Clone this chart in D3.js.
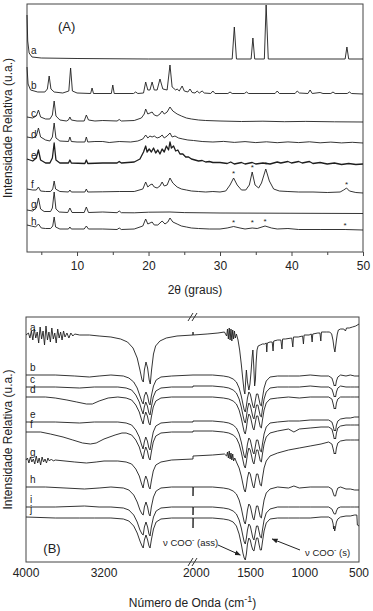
<!DOCTYPE html>
<html><head><meta charset="utf-8">
<script src="https://cdn.jsdelivr.net/npm/d3@7"></script>
<style>body{margin:0;background:#fff}svg{display:block}text{font-family:"Liberation Sans",Arial,sans-serif;fill:#222}</style>
</head><body>
<script>
// ---------- Panel A: XRD (2θ, intensity a.u. above each trace's own baseline) ----------
const xrdLabels = ["a","b","c","d","e","f","g","h"];
const xrdOffsets = [193,158,130,109,88,59,39,22];
const xrdA = [[3,44],[3.1,18],[3.3,6],[3.7,2],[5,1],[10,0.5],[20,0],[31.7,0],[32,32],[32.3,0],[34.35,0],[34.6,21],[34.85,0],[36.2,0],[36.45,54],[36.75,0],[47.5,0],[47.75,12],[48.0,0],[50,0]];
const xrdB = [[3,27],[3.15,10],[3.5,4],[4.5,2],[5.5,2],[5.85,5],[6.1,18],[6.35,5],[6.8,2],[8,1],[8.85,3],[9.1,26],[9.35,3],[10,1],[11.9,0.5],[12.1,6],[12.3,0.5],[14.8,0.5],[15.0,9],[15.2,0.5],[17.9,0.5],[18.2,2],[18.5,0.5],[19.3,1],[19.6,12],[19.9,4],[20.2,4],[20.5,12],[20.8,4],[21.2,4],[21.6,15],[22.0,5],[22.6,4],[23.0,29],[23.3,7],[23.8,4],[24.0,5],[24.3,3],[24.7,8],[25.0,3],[25.5,2],[25.8,5],[26.1,1.5],[26.5,1],[26.8,3],[27.1,1],[27.5,3],[27.8,1],[28.7,0.5],[29.0,3],[29.3,0.5],[31.1,0.5],[31.4,2],[31.7,0.5],[33.4,0.5],[33.7,2],[34.0,0.5],[37.7,0.5],[38.0,3],[38.3,0.5],[40.5,0.5],[40.8,3],[41.1,1],[42.3,0.5],[42.6,4],[42.9,0.5],[44,1.5],[44.4,0.5],[45.5,0.5],[45.8,2],[46.1,0.5],[47.8,0.5],[48.1,2],[48.4,0.5],[50,0]];
const xrdC = [[3,5],[3.8,4],[4.3,6],[4.6,12],[4.9,5],[5.6,3],[6.2,3],[6.55,7],[6.8,21],[7.05,6],[7.6,2],[8.5,1],[8.8,2],[9.0,5],[9.2,2],[10,1],[11.0,1],[11.3,7],[11.6,2],[12.5,1],[13.6,1.5],[15.6,1],[15.9,2.5],[16.2,1],[18,1.5],[19.0,4],[19.4,8],[19.6,13],[19.9,8],[20.2,9],[20.5,10],[20.8,7],[21.2,6],[21.6,8],[21.9,11],[22.2,8],[22.6,10],[23.0,15],[23.4,11],[24,8],[24.6,6],[25.3,4],[26,3],[27,2],[28,1.5],[30,1],[33,0.5],[36,0.8],[39,0.3],[42,0.6],[46,0.2],[50,0]];
const xrdD = [[3,6],[3.8,5],[4.3,7],[4.6,15],[4.9,6],[5.6,3],[6.2,2],[6.55,6],[6.8,20],[7.05,5],[7.6,2],[8.8,1.5],[9.0,6],[9.2,1.5],[10,1],[11.1,1],[11.3,6],[11.5,1],[12.5,1.5],[13.6,1.5],[14.5,0.5],[15.9,1.5],[17.5,1],[18.5,2],[19.2,4],[19.6,8],[19.9,5],[20.2,7],[20.5,6],[20.8,7],[21.2,5],[21.6,6],[21.9,8],[22.2,5],[22.6,7],[23.0,10],[23.3,6],[23.7,7],[24.2,5],[24.8,4],[25.5,3],[26.3,2.5],[27.5,1.5],[29,1],[30.5,1.6],[32,0.6],[33.5,1.4],[35,0.4],[36.5,1.2],[38,0.3],[39.5,1.1],[41,0.4],[42.5,1.2],[44,0.2],[45.5,0.9],[47,0.1],[48.5,0.7],[50,0]];
const xrdE = [[3,5],[3.8,3],[4.3,6],[4.6,14],[4.9,4],[5.6,1],[6.2,1],[6.55,6],[6.8,21],[7.05,4],[7.6,1],[8.8,1],[9.0,4],[9.2,1],[11.1,0.5],[11.3,4],[11.5,0.5],[13.6,1],[15.6,1],[15.9,2.5],[16.2,1],[18,2],[18.8,5],[19.3,12],[19.6,18],[19.8,12],[20.1,15],[20.4,12],[20.7,16],[21.0,11],[21.3,14],[21.6,10],[21.9,15],[22.2,12],[22.5,18],[22.8,14],[23.0,22],[23.2,16],[23.5,18],[23.8,13],[24.1,14],[24.4,10],[24.8,10],[25.2,7],[25.6,7],[26.0,5],[26.5,4],[27,3],[27.5,3.5],[28,2],[28.5,2.5],[29,1.5],[30,1.5],[31,0.5],[31.5,2],[32,0],[33,1.5],[33.5,0],[34.5,1.5],[35,0],[36,1],[37,0],[38,2],[38.5,1],[39.5,2.5],[40,1],[41,2.5],[41.5,1],[42.5,2.5],[43,0.5],[44,1.5],[45,0],[46,1],[47,-0.5],[48,0.5],[49,-0.5],[50,0]];
const xrdF = [[3,4],[3.8,3],[4.3,3],[4.6,6],[4.9,2],[5.6,1.5],[6.3,1.5],[6.6,4],[6.8,12],[7.0,4],[7.6,1.5],[8.8,1],[9.0,3],[9.2,1],[11.1,1],[11.3,4],[11.5,1],[13.6,1.2],[15.9,1.5],[18,1.5],[19.2,4],[19.6,11],[19.9,6],[20.2,8],[20.5,9],[20.8,6],[21.2,5],[21.6,7],[21.9,11],[22.2,7],[22.6,8],[23.0,15],[23.4,10],[24,6],[24.6,4],[25.3,3],[26,2],[27,1.5],[28,1],[29,1.5],[30,1],[30.8,2],[31.4,8],[31.9,15],[32.4,8],[33.0,3],[33.6,3],[34.1,8],[34.5,21],[34.9,8],[35.4,5],[35.8,10],[36.4,24],[36.9,12],[37.5,4],[38.3,2],[39.5,1.5],[41,1],[43,1],[45,0.5],[46.8,1],[47.3,3],[47.7,5],[48.1,2],[49,0.5],[50,0]];
const xrdG = [[3,3],[3.8,2],[4.3,5],[4.6,15],[4.9,4],[5.4,1.5],[6.3,1.5],[6.55,5],[6.8,21],[7.05,4],[7.5,1],[8.7,0.5],[9.0,5],[9.3,0.5],[11.0,0.5],[11.3,6],[11.6,0.5],[13.6,1],[15.6,0.3],[15.9,2],[16.2,0.3],[18,0.2],[20,0.8],[23,1],[25,0.4],[30,0],[50,-0.5]];
const xrdH = [[3,5],[3.6,4],[4.2,3],[4.6,6],[5.0,2],[5.6,1.5],[6.3,1.5],[6.6,4],[6.8,13],[7.0,3],[7.6,1],[8.8,1],[9.0,3],[9.2,1],[11.0,1],[11.3,4],[11.6,1],[13.6,1],[15.6,0.5],[15.9,2],[16.2,0.5],[18,1],[19.2,4],[19.6,11],[19.9,6],[20.2,7],[20.5,8],[20.8,5],[21.3,5],[21.9,9],[22.3,6],[22.7,8],[23.0,12],[23.4,8],[24,6],[24.6,4],[25.3,3],[26,2],[27,1.5],[28.5,1],[30,1],[31,2],[31.9,3.5],[32.8,2],[33.5,1],[34.5,2],[35.2,1.5],[36.3,4],[37.2,2],[38,1],[39.5,1.5],[41,0.5],[44,0.5],[47.5,0.5],[50,0]];
const xrdSeries = [xrdA,xrdB,xrdC,xrdD,xrdE,xrdF,xrdG,xrdH];
const xrdTicks = [10,20,30,40,50];
const xrdMinor = [5,15,25,35,45];
const znoMarks = [[5,31.9,20],[5,34.5,26],[5,36.4,29],[5,47.7,9],[7,31.9,8],[7,34.5,8],[7,36.3,9],[7,47.5,5]];

// ---------- Panel B: FTIR (wavenumber, transmittance a.u.) ----------
const irLabels = ["a","b","c","d","e","f","g","h","i","j"];
const irLeftA = [[4000,227],[3975,229],[3960,224],[3945,231],[3930,222],[3915,233],[3900,224],[3885,230],[3870,219],[3855,235],[3840,223],[3825,231],[3810,217],[3795,236],[3780,222],[3765,230],[3750,220],[3735,234],[3720,223],[3705,229],[3690,219],[3675,233],[3660,224],[3645,230],[3630,222],[3615,231],[3600,225],[3580,229],[3560,224],[3540,229],[3520,226],[3500,228],[3450,227],[3350,227],[3250,226],[3150,225],[3080,223],[3030,220],[2990,214],[2960,204],[2940,192],[2925,182],[2915,180],[2905,192],[2890,200],[2875,194],[2860,182],[2850,178],[2838,192],[2820,208],[2800,216],[2760,221],[2700,224],[2600,226],[2450,227]];
const irRightA = [[2030,230],[2029,227],[1900,228],[1800,229],[1740,230],[1720,226],[1712,233],[1704,223],[1696,234],[1688,222],[1680,233],[1672,221],[1664,232],[1656,223],[1648,231],[1640,224],[1630,228],[1615,222],[1600,212],[1585,198],[1572,184],[1560,172],[1552,168],[1544,182],[1538,192],[1528,180],[1515,172],[1505,178],[1495,190],[1485,205],[1478,212],[1470,196],[1462,176],[1455,182],[1448,200],[1440,212],[1430,216],[1410,217],[1390,218],[1370,218],[1355,219],[1350,210],[1345,219],[1320,220],[1300,220],[1292,211],[1286,221],[1250,222],[1220,222],[1210,213],[1204,223],[1180,223],[1120,224],[1110,215],[1104,225],[1060,225],[1020,226],[1012,218],[1006,227],[960,227],[940,228],[932,220],[926,228],[880,229],[860,229],[852,221],[846,230],[800,230],[770,230],[752,228],[740,222],[730,214],[722,210],[716,215],[708,222],[700,228],[690,232],[670,233],[640,233],[625,231],[615,234],[590,234],[560,235],[530,236],[500,238]];
const irLeftB = [[4000,187],[3700,187],[3500,186],[3350,185],[3250,186],[3150,187],[3060,186],[3020,184],[2985,180],[2960,174],[2940,166],[2925,160],[2916,158],[2905,166],[2890,170],[2875,166],[2862,159],[2852,157],[2840,166],[2820,176],[2795,182],[2750,185],[2650,186],[2450,187]];
const irRightB = [[2030,187],[1850,187],[1750,186],[1700,185],[1660,183],[1630,180],[1605,174],[1585,166],[1570,158],[1558,152],[1548,150],[1538,156],[1528,164],[1515,170],[1502,168],[1490,162],[1478,156],[1468,154],[1458,160],[1445,168],[1432,168],[1420,162],[1410,157],[1400,156],[1390,164],[1375,174],[1355,181],[1320,185],[1250,186],[1150,186],[1050,186],[950,187],[850,186],[780,186],[750,184],[738,180],[728,176],[722,177],[716,176],[708,181],[695,185],[670,187],[620,186],[580,187],[540,186],[500,186]];
const irLeftC = [[4000,175],[3700,175],[3450,174],[3300,175],[3100,175],[3040,174],[3000,172],[2970,167],[2945,160],[2928,152],[2917,148],[2906,155],[2892,160],[2877,156],[2863,149],[2852,147],[2840,155],[2822,165],[2798,171],[2750,174],[2650,175],[2450,175]];
const irRightC = [[2030,176],[1850,176],[1750,175],[1700,174],[1660,172],[1630,169],[1605,163],[1585,155],[1570,147],[1558,141],[1548,139],[1538,145],[1528,153],[1515,159],[1502,157],[1490,151],[1478,145],[1468,143],[1458,149],[1445,157],[1432,157],[1420,151],[1410,146],[1400,145],[1390,153],[1375,163],[1355,170],[1320,174],[1250,175],[1150,175],[1050,175],[950,176],[850,175],[780,175],[750,173],[738,169],[728,165],[722,166],[716,165],[708,170],[695,174],[670,176],[620,175],[580,175],[540,175],[500,175]];
const irLeftD = [[4000,165],[3800,165],[3700,164],[3580,162],[3480,160],[3380,158],[3320,158],[3250,161],[3170,164],[3100,165],[3040,164],[3000,162],[2970,157],[2945,150],[2928,142],[2917,138],[2906,145],[2892,150],[2877,146],[2863,139],[2852,137],[2840,145],[2822,155],[2798,161],[2750,164],[2650,165],[2450,165]];
const irRightD = [[2030,165],[1850,165],[1750,164],[1700,163],[1660,161],[1630,158],[1605,152],[1585,144],[1570,136],[1558,130],[1548,128],[1538,134],[1528,142],[1515,148],[1502,146],[1490,140],[1478,134],[1468,132],[1458,138],[1445,146],[1432,146],[1420,140],[1410,135],[1400,134],[1390,142],[1375,152],[1355,159],[1320,163],[1250,164],[1150,165],[1050,164],[950,165],[850,165],[780,165],[750,163],[738,158],[728,153],[722,154],[716,153],[708,159],[695,163],[670,165],[620,165],[580,165],[540,165],[500,165]];
const irLeftE = [[4000,140],[3700,140],[3450,139],[3300,140],[3100,140],[3040,139],[3000,137],[2970,132],[2945,125],[2928,117],[2917,113],[2906,120],[2892,125],[2877,121],[2863,114],[2852,112],[2840,120],[2822,130],[2798,136],[2750,139],[2650,140],[2450,140]];
const irRightE = [[2030,141],[1850,141],[1750,140],[1700,139],[1660,137],[1630,134],[1605,128],[1585,120],[1570,112],[1558,106],[1548,104],[1538,110],[1528,118],[1515,124],[1502,122],[1490,116],[1478,110],[1468,108],[1458,114],[1445,122],[1432,122],[1420,116],[1410,111],[1400,110],[1390,118],[1375,128],[1355,135],[1320,139],[1250,140],[1150,141],[1050,141],[950,142],[850,142],[780,142],[750,140],[738,136],[728,131],[722,132],[716,131],[708,137],[695,141],[670,143],[620,144],[580,144],[540,145],[500,145]];
const irLeftF = [[4000,130],[3850,130],[3750,128],[3620,125],[3520,122],[3420,119],[3340,118],[3280,119],[3200,123],[3120,127],[3070,129],[3040,129],[3000,127],[2970,122],[2945,115],[2928,107],[2917,103],[2906,110],[2892,115],[2877,111],[2863,104],[2852,102],[2840,110],[2822,120],[2798,126],[2750,129],[2650,130],[2450,130]];
const irRightF = [[2030,131],[1850,131],[1750,130],[1700,129],[1660,127],[1630,124],[1605,118],[1585,110],[1570,102],[1558,96],[1548,94],[1538,100],[1528,108],[1515,114],[1502,112],[1490,106],[1478,100],[1468,98],[1458,104],[1445,112],[1432,112],[1420,106],[1410,101],[1400,100],[1390,108],[1375,118],[1355,125],[1320,129],[1250,131],[1150,133],[1100,130],[1050,133],[950,134],[850,135],[780,135],[750,133],[738,128],[728,123],[722,124],[716,123],[708,129],[695,134],[670,136],[620,137],[580,137],[540,137],[500,137]];
const irLeftG = [[4000,102],[3985,104],[3970,99],[3955,105],[3940,100],[3925,103],[3910,98],[3895,106],[3880,99],[3865,104],[3850,97],[3835,105],[3820,100],[3805,103],[3790,99],[3775,104],[3760,101],[3740,103],[3720,101],[3700,102],[3600,101],[3500,100],[3380,99],[3280,100],[3200,101],[3100,101],[3040,100],[3000,98],[2970,93],[2945,86],[2928,78],[2917,74],[2906,81],[2892,86],[2877,82],[2863,75],[2852,73],[2840,81],[2822,91],[2798,97],[2750,100],[2650,102],[2450,103]];
const irRightG = [[2030,106],[1850,107],[1740,108],[1720,106],[1712,110],[1704,104],[1696,111],[1688,103],[1680,109],[1672,102],[1664,108],[1656,101],[1645,104],[1630,100],[1605,94],[1585,86],[1570,78],[1558,72],[1548,70],[1538,76],[1528,84],[1515,90],[1502,88],[1490,82],[1478,76],[1468,74],[1458,80],[1445,88],[1432,88],[1420,82],[1410,77],[1400,76],[1390,84],[1375,94],[1355,101],[1320,106],[1250,109],[1150,112],[1050,114],[950,116],[850,118],[780,120],[750,118],[738,113],[728,108],[722,109],[716,108],[708,114],[695,119],[670,121],[620,122],[580,122],[540,122],[500,122]];
const irLeftH = [[4000,75],[3800,75],[3600,74],[3400,73],[3250,74],[3150,75],[3060,74],[3020,72],[2985,67],[2960,60],[2940,52],[2925,48],[2916,47],[2905,55],[2890,60],[2875,55],[2862,48],[2852,46],[2840,55],[2820,65],[2795,71],[2750,74],[2650,75],[2450,75]];
const irRightH = [[2030,66],[2028,75],[1850,75],[1750,74],[1700,73],[1660,71],[1630,68],[1605,62],[1585,54],[1570,46],[1558,40],[1548,38],[1538,44],[1528,52],[1515,58],[1502,56],[1490,50],[1478,44],[1468,42],[1458,48],[1445,56],[1432,56],[1420,50],[1410,45],[1400,44],[1390,52],[1375,62],[1355,69],[1320,73],[1250,75],[1150,74],[1100,76],[1050,74],[950,75],[850,75],[780,75],[750,73],[738,69],[728,66],[722,66],[716,66],[708,70],[695,74],[670,75],[620,73],[580,73],[540,72],[500,72]];
const irLeftI = [[4000,55],[3700,55],[3400,56],[3250,55],[3150,55],[3060,54],[3020,52],[2985,47],[2960,40],[2940,32],[2925,28],[2916,27],[2905,35],[2890,40],[2875,35],[2862,28],[2852,26],[2840,35],[2820,45],[2795,51],[2750,54],[2650,55],[2450,55]];
const irRightI = [[2030,47],[2028,55],[1850,55],[1750,54],[1700,53],[1660,51],[1630,48],[1605,42],[1585,34],[1570,26],[1558,20],[1548,18],[1538,24],[1528,32],[1515,38],[1502,36],[1490,30],[1478,24],[1468,22],[1458,28],[1445,36],[1432,36],[1420,30],[1410,25],[1400,24],[1390,32],[1375,42],[1355,49],[1320,53],[1250,55],[1150,55],[1050,55],[950,55],[850,55],[780,55],[750,53],[738,50],[728,48],[722,48],[716,48],[708,51],[695,54],[670,55],[620,55],[580,55],[540,55],[500,55]];
const irLeftJ = [[4000,45],[3700,44],[3450,44],[3300,44],[3150,44],[3060,43],[3020,41],[2985,36],[2960,29],[2940,21],[2925,16],[2916,14],[2905,22],[2890,27],[2875,22],[2862,16],[2852,14],[2840,22],[2820,33],[2795,40],[2750,43],[2650,44],[2450,44]];
const irRightJ = [[2030,34],[2028,44],[1850,44],[1750,43],[1700,42],[1660,40],[1630,36],[1605,28],[1585,18],[1570,9],[1558,4],[1548,2],[1538,8],[1528,18],[1515,24],[1502,22],[1490,16],[1478,12],[1468,11],[1458,17],[1445,24],[1432,24],[1420,17],[1410,12],[1400,12],[1390,20],[1375,31],[1355,39],[1320,43],[1250,44],[1150,44],[1050,44],[950,44],[850,45],[780,45],[750,43],[738,38],[734,33],[730,36],[724,31],[718,34],[708,40],[695,43],[670,45],[620,46],[580,46],[540,47],[520,47],[515,37],[500,36]];
const irLeft = [irLeftA,irLeftB,irLeftC,irLeftD,irLeftE,irLeftF,irLeftG,irLeftH,irLeftI,irLeftJ];
const irRight = [irRightA,irRightB,irRightC,irRightD,irRightE,irRightF,irRightG,irRightH,irRightI,irRightJ];
const irTicksLeft = [4000,3200];
const irTicksRight = [2000,1500,1000,500];

// ---------- drawing ----------
const W = 373, H = 611;
const svg = d3.select("body").append("svg").attr("width",W).attr("height",H);
const ink = "#1e1e1e";

// Panel A
const A = {l:27, r:363, t:4, b:252};
const xA = d3.scaleLinear().domain([3,50]).range([A.l,A.r]);
const yA = d3.scaleLinear().domain([0,248]).range([A.b,A.t]);
const gA = svg.append("g");
gA.append("rect").attr("x",A.l).attr("y",A.t).attr("width",A.r-A.l).attr("height",A.b-A.t)
  .attr("fill","none").attr("stroke","#444").attr("stroke-width",1);
const axA = gA.append("g").attr("transform",`translate(0,${A.b})`)
  .call(d3.axisBottom(xA).tickValues(xrdTicks).tickSize(4).tickPadding(5).tickFormat(d3.format("d")));
axA.select(".domain").remove();
axA.selectAll("text").attr("font-size",12).attr("font-family","Liberation Sans, Arial").attr("fill","#222");
axA.selectAll("line").attr("stroke","#444");
gA.append("g").attr("transform",`translate(0,${A.b})`)
  .call(d3.axisBottom(xA).tickValues(xrdMinor).tickSize(3).tickFormat(""))
  .call(g=>{g.select(".domain").remove(); g.selectAll("line").attr("stroke","#444");});

const lineA = d3.line().x(d=>xA(d[0])).y(d=>yA(d[1])).curve(d3.curveLinear);
xrdSeries.forEach((s,i)=>{
  const off = xrdOffsets[i];
  gA.append("path").datum(s.map(p=>[p[0],p[1]+off]))
    .attr("d",lineA).attr("fill","none").attr("stroke",ink)
    .attr("stroke-width", i===4 ? 1.3 : 0.9).attr("stroke-linejoin","round");
  gA.append("text").attr("x",A.l+4).attr("y",yA(off)-5).attr("font-size",10).text(xrdLabels[i]);
});
znoMarks.forEach(m=>{
  gA.append("text").attr("x",xA(m[1])).attr("y",yA(xrdOffsets[m[0]]+m[2])+3)
    .attr("text-anchor","middle").attr("font-size",8).text("*");
});
gA.append("text").attr("x",58).attr("y",31).attr("font-size",13).text("(A)");
gA.append("text").attr("x",(A.l+A.r)/2).attr("y",294).attr("text-anchor","middle").attr("font-size",12).text("2θ (graus)");
gA.append("text").attr("transform",`translate(12,${(A.t+A.b)/2}) rotate(-90)`).attr("text-anchor","middle")
  .attr("font-size",12).text("Intensidade Relativa (u.a.)");

// Panel B
const B = {l:26, r:359, t:317, b:562, brk:193};
const xL = d3.scaleLinear().domain([4000,3200,2918,2450]).range([B.l,104,143,B.brk]);
const xR = d3.scaleLinear().domain([2030,500]).range([B.brk,B.r]);
const yB = d3.scaleLinear().domain([0,245]).range([B.b,B.t]);
const gB = svg.append("g");
gB.append("rect").attr("x",B.l).attr("y",B.t).attr("width",B.r-B.l).attr("height",B.b-B.t)
  .attr("fill","none").attr("stroke","#444").attr("stroke-width",1);
const lineB = d3.line().x(d=>d[0]).y(d=>yB(d[1])).curve(d3.curveLinear);
irLeft.forEach((L,i)=>{
  const pts = L.map(p=>[xL(p[0]),p[1]]).concat(irRight[i].map(p=>[xR(p[0]),p[1]]));
  gB.append("path").datum(pts).attr("d",lineB).attr("fill","none").attr("stroke",ink)
    .attr("stroke-width",0.9).attr("stroke-linejoin","round");
  gB.append("text").attr("x",B.l+4).attr("y",yB(L[0][1])-4).attr("font-size",10).text(irLabels[i]);
});
[B.t,B.b].forEach(yy=>{
  [-2,2].forEach(dx=>{
    gB.append("line").attr("x1",B.brk+dx-3).attr("y1",yy+4).attr("x2",B.brk+dx+2).attr("y2",yy-4)
      .attr("stroke","#333").attr("stroke-width",1);
  });
});
const tickY = 577;
irTicksLeft.forEach(t=>gB.append("text").attr("x",xL(t)).attr("y",tickY).attr("text-anchor","middle").attr("font-size",12).text(t));
irTicksRight.forEach(t=>gB.append("text").attr("x",xR(t)).attr("y",tickY).attr("text-anchor","middle").attr("font-size",12).text(t));
gB.append("text").attr("x",52).attr("y",553).attr("text-anchor","middle").attr("font-size",13).text("(B)");
const xt = gB.append("text").attr("x",(B.l+B.r)/2).attr("y",607).attr("text-anchor","middle").attr("font-size",12);
xt.append("tspan").text("Número de Onda (cm");
xt.append("tspan").attr("dy",-5).attr("font-size",9).text("-1");
xt.append("tspan").attr("dy",5).text(")");
gB.append("text").attr("transform",`translate(12,${(B.t+B.b)/2}) rotate(-90)`).attr("text-anchor","middle")
  .attr("font-size",12).text("Intensidade Relativa (u.a.)");
const defs = svg.append("defs");
defs.append("marker").attr("id","ah").attr("viewBox","0 0 10 10").attr("refX",9).attr("refY",5)
  .attr("markerWidth",6).attr("markerHeight",6).attr("orient","auto")
  .append("path").attr("d","M0,1 L10,5 L0,9 z").attr("fill","#222");
const t1 = gB.append("text").attr("x",163).attr("y",546).attr("font-size",9.5);
t1.append("tspan").text("ν COO");
t1.append("tspan").attr("dy",-4).attr("font-size",7).text("-");
t1.append("tspan").attr("dy",4).text(" (ass)");
gB.append("line").attr("x1",218).attr("y1",545).attr("x2",xR(1548)-5).attr("y2",555)
  .attr("stroke","#222").attr("stroke-width",1).attr("marker-end","url(#ah)");
const t2 = gB.append("text").attr("x",305).attr("y",556).attr("font-size",9.5);
t2.append("tspan").text("ν COO");
t2.append("tspan").attr("dy",-4).attr("font-size",7).text("-");
t2.append("tspan").attr("dy",4).text(" (s)");
gB.append("line").attr("x1",300).attr("y1",550).attr("x2",xR(1300)).attr("y2",539)
  .attr("stroke","#222").attr("stroke-width",1).attr("marker-end","url(#ah)");
</script>
</body></html>
